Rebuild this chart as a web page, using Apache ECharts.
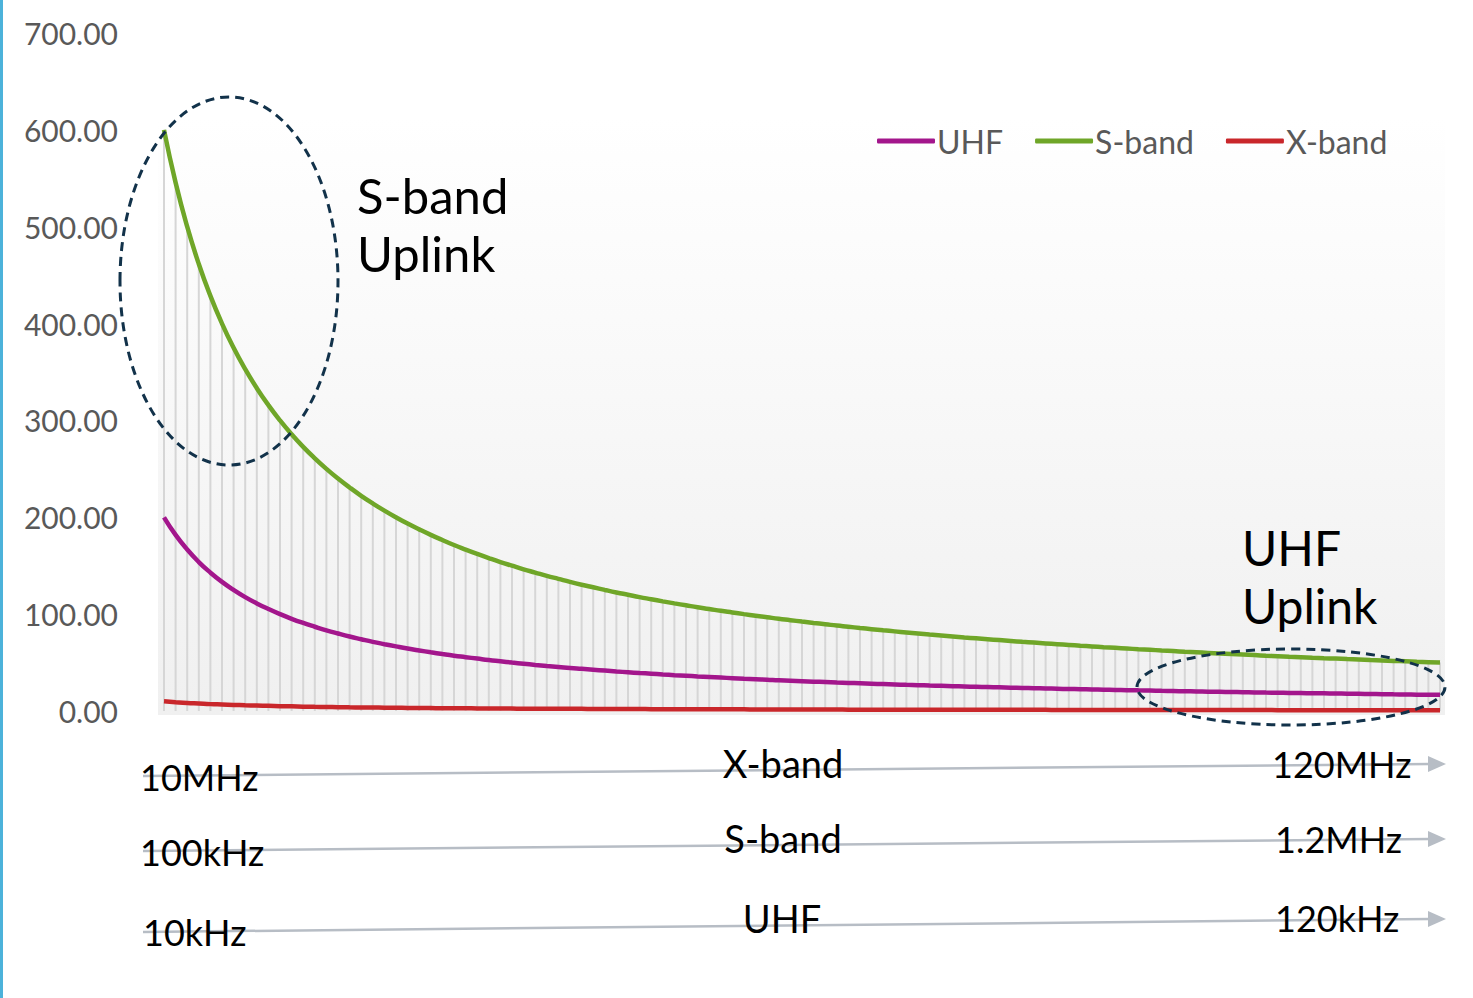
<!DOCTYPE html>
<html>
<head>
<meta charset="utf-8">
<script src="https://cdn.jsdelivr.net/npm/echarts@6/dist/echarts.min.js"></script>
<style>
html,body{margin:0;padding:0;background:#fff;}
#c{width:1473px;height:998px;}
</style>
</head>
<body>
<div id="c"></div>
<script>
// categories: frequency steps (10 .. 120)
const categories = [
  10,11,12,13,14,15,16,17,18,19,
  20,21,22,23,24,25,26,27,28,29,
  30,31,32,33,34,35,36,37,38,39,
  40,41,42,43,44,45,46,47,48,49,
  50,51,52,53,54,55,56,57,58,59,
  60,61,62,63,64,65,66,67,68,69,
  70,71,72,73,74,75,76,77,78,79,
  80,81,82,83,84,85,86,87,88,89,
  90,91,92,93,94,95,96,97,98,99,
  100,101,102,103,104,105,106,107,108,109,
  110,111,112,113,114,115,116,117,118,119,
  120
];
const uhf = [
  200,181.8,166.7,153.8,142.9,133.3,125,117.6,111.1,105.3,
  100,95.2,90.9,87.0,83.3,80,76.9,74.1,71.4,69.0,
  66.7,64.5,62.5,60.6,58.8,57.1,55.6,54.1,52.6,51.3,
  50,48.8,47.6,46.5,45.5,44.4,43.5,42.6,41.7,40.8,
  40,39.2,38.5,37.7,37.0,36.4,35.7,35.1,34.5,33.9,
  33.3,32.8,32.3,31.7,31.3,30.8,30.3,29.9,29.4,29.0,
  28.6,28.2,27.8,27.4,27.0,26.7,26.3,26.0,25.6,25.3,
  25,24.7,24.4,24.1,23.8,23.5,23.3,23.0,22.7,22.5,
  22.2,22.0,21.7,21.5,21.3,21.1,20.8,20.6,20.4,20.2,
  20,19.8,19.6,19.4,19.2,19.0,18.9,18.7,18.5,18.3,
  18.2,18.0,17.9,17.7,17.5,17.4,17.2,17.1,16.9,16.8,
  16.7
];
const sband = [
  600,545.5,500,461.5,428.6,400,375,352.9,333.3,315.8,
  300,285.7,272.7,260.9,250,240,230.8,222.2,214.3,206.9,
  200,193.5,187.5,181.8,176.5,171.4,166.7,162.2,157.9,153.8,
  150,146.3,142.9,139.5,136.4,133.3,130.4,127.7,125,122.4,
  120,117.6,115.4,113.2,111.1,109.1,107.1,105.3,103.4,101.7,
  100,98.4,96.8,95.2,93.8,92.3,90.9,89.6,88.2,87.0,
  85.7,84.5,83.3,82.2,81.1,80,78.9,77.9,76.9,75.9,
  75,74.1,73.2,72.3,71.4,70.6,69.8,69.0,68.2,67.4,
  66.7,65.9,65.2,64.5,63.8,63.2,62.5,61.9,61.2,60.6,
  60,59.4,58.8,58.3,57.7,57.1,56.6,56.1,55.6,55.0,
  54.5,54.1,53.6,53.1,52.6,52.2,51.7,51.3,50.8,50.4,
  50
];
const xband = [
  10,9.1,8.3,7.7,7.1,6.7,6.3,5.9,5.6,5.3,
  5.0,4.8,4.5,4.3,4.2,4.0,3.8,3.7,3.6,3.4,
  3.3,3.2,3.1,3.0,2.9,2.9,2.8,2.7,2.6,2.6,
  2.5,2.4,2.4,2.3,2.3,2.2,2.2,2.1,2.1,2.0,
  2.0,2.0,1.9,1.9,1.9,1.8,1.8,1.8,1.7,1.7,
  1.7,1.6,1.6,1.6,1.6,1.5,1.5,1.5,1.5,1.4,
  1.4,1.4,1.4,1.4,1.4,1.3,1.3,1.3,1.3,1.3,
  1.3,1.2,1.2,1.2,1.2,1.2,1.2,1.1,1.1,1.1,
  1.1,1.1,1.1,1.1,1.1,1.1,1.0,1.0,1.0,1.0,
  1.0,1.0,1.0,1.0,1.0,1.0,0.9,0.9,0.9,0.9,
  0.9,0.9,0.9,0.9,0.9,0.9,0.9,0.9,0.8,0.8,
  0.8
];
const yTicks = { min: 0, max: 700, interval: 100 };
const bandRows = [
  { start: '10MHz',  name: 'X-band', end: '120MHz' },
  { start: '100kHz', name: 'S-band', end: '1.2MHz' },
  { start: '10kHz',  name: 'UHF',    end: '120kHz' }
];
const notes = [
  { text: 'S-band\nUplink' },
  { text: 'UHF\nUplink' }
];

const FONT = 'Lato, "Open Sans", sans-serif';
const chart = echarts.init(document.getElementById('c'), null, { renderer: 'svg' });

// geometry of the under-axis frequency arrows (styling only)
const rowGeom = [
  { y0: 776, y1: 764, sx: 140, sy: 777, nx: 783, ny: 763, ex: 1272, ey: 764 },
  { y0: 851, y1: 839, sx: 140, sy: 852, nx: 783, ny: 838, ex: 1275, ey: 839 },
  { y0: 932, y1: 919, sx: 143, sy: 932, nx: 782, ny: 918, ex: 1275, ey: 918 }
];
const graphics = [
  { type: 'rect', z: -10, silent: true, shape: { x: 158, y: 117, width: 1287, height: 598 },
    style: { fill: new echarts.graphic.LinearGradient(0, 0, 0, 1, [
      { offset: 0, color: '#ffffff' }, { offset: 1, color: '#f0f0f0' }]) } },
  { type: 'rect', z: 10, silent: true, shape: { x: 0, y: 0, width: 3, height: 998 },
    style: { fill: '#4cb2da' } }
];
bandRows.forEach((r, i) => {
  const g = rowGeom[i];
  graphics.push({ type: 'line', z: 20, silent: true,
    shape: { x1: 143, y1: g.y0, x2: 1430, y2: g.y1 },
    style: { stroke: '#b7bdc5', lineWidth: 2.5 } });
  graphics.push({ type: 'polygon', z: 20, silent: true,
    shape: { points: [[1428, g.y1 - 8], [1446, g.y1], [1428, g.y1 + 8]] },
    style: { fill: '#b7bdc5' } });
  graphics.push({ type: 'text', z: 30, silent: true, x: g.sx, y: g.sy,
    style: { text: r.start, font: '36px ' + FONT, fill: '#000', verticalAlign: 'middle', align: 'left' } });
  graphics.push({ type: 'text', z: 30, silent: true, x: g.nx, y: g.ny,
    style: { text: r.name, font: '38px ' + FONT, fill: '#000', verticalAlign: 'middle', align: 'center' } });
  graphics.push({ type: 'text', z: 30, silent: true, x: g.ex, y: g.ey,
    style: { text: r.end, font: '36px ' + FONT, fill: '#000', verticalAlign: 'middle', align: 'left' } });
});
graphics.push({ type: 'text', z: 30, silent: true, x: 357, y: 166,
  style: { text: notes[0].text, font: '49px ' + FONT, fill: '#000', lineHeight: 58 } });
graphics.push({ type: 'text', z: 30, silent: true, x: 1242, y: 518,
  style: { text: notes[1].text, font: '48px ' + FONT, fill: '#000', lineHeight: 58 } });
graphics.push({ type: 'ellipse', z: 40, silent: true,
  shape: { cx: 229, cy: 281, rx: 109, ry: 184 },
  style: { fill: 'none', stroke: '#12324a', lineWidth: 3, lineDash: [9, 6] } });
graphics.push({ type: 'ellipse', z: 40, silent: true,
  shape: { cx: 1291, cy: 687, rx: 154, ry: 38 },
  style: { fill: 'none', stroke: '#12324a', lineWidth: 3, lineDash: [9, 6] } });

chart.setOption({
  animation: false,
  backgroundColor: '#ffffff',
  grid: { left: 164, right: 33, top: 33, bottom: 287, containLabel: false },
  legend: {
    left: 872, top: 120, itemWidth: 58, itemHeight: 5, itemGap: 32,
    icon: 'roundRect',
    textStyle: { fontFamily: FONT, fontSize: 32, color: '#595959', padding: [0, 0, 0, -3] },
    data: ['UHF', 'S-band', 'X-band']
  },
  xAxis: {
    type: 'category', data: categories, boundaryGap: false,
    axisLine: { show: false }, axisTick: { show: false }, axisLabel: { show: false },
    splitLine: { show: false }
  },
  yAxis: {
    type: 'value', min: yTicks.min, max: yTicks.max, interval: yTicks.interval,
    axisLine: { show: false }, axisTick: { show: false }, splitLine: { show: false },
    axisLabel: { margin: 46, fontFamily: FONT, fontSize: 30, color: '#595959',
      formatter: v => v.toFixed(2) }
  },
  graphic: graphics,
  series: [
    { name: 'drop', type: 'bar', data: sband, barWidth: 2, silent: true, z: 1,
      itemStyle: { color: '#d6d6d6' }, legendHoverLink: false },
    { name: 'UHF', type: 'line', data: uhf, showSymbol: false, smooth: true, z: 3,
      lineStyle: { width: 4.5, color: '#a3168c' }, itemStyle: { color: '#a3168c' } },
    { name: 'S-band', type: 'line', data: sband, showSymbol: false, smooth: true, z: 3,
      lineStyle: { width: 4.5, color: '#6fa628' }, itemStyle: { color: '#6fa628' } },
    { name: 'X-band', type: 'line', data: xband, showSymbol: false, smooth: true, z: 3,
      lineStyle: { width: 4.5, color: '#c9272b' }, itemStyle: { color: '#c9272b' } }
  ]
});
</script>
</body>
</html>
